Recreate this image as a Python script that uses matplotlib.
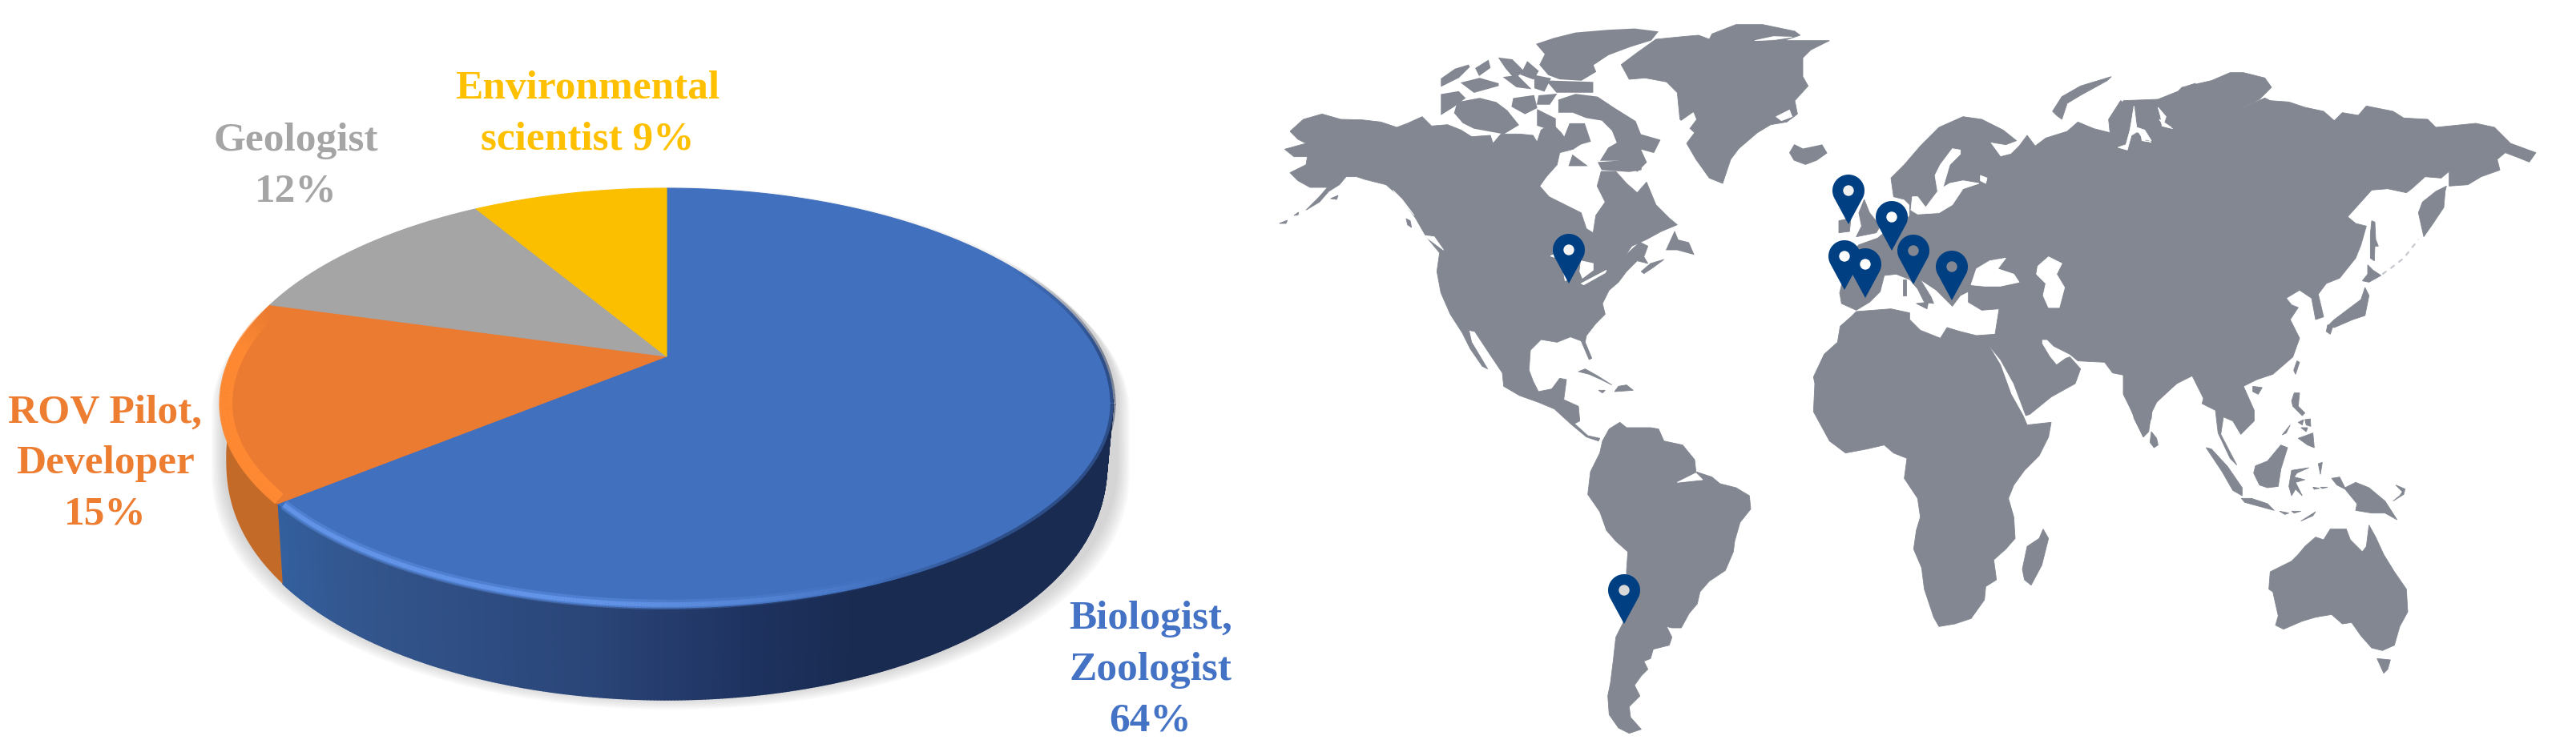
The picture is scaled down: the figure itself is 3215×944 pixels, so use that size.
import numpy as np
import matplotlib
matplotlib.use("Agg")
import matplotlib.pyplot as plt
from matplotlib.collections import LineCollection, PolyCollection
from matplotlib.colors import to_rgb

# --- pie data ---
roles = ["Biologist,\nZoologist", "ROV Pilot,\nDeveloper", "Geologist", "Environmental\nscientist"]
shares = [64, 15, 12, 9]
top_colors = ["#4170be", "#eb7b31", "#a5a5a5", "#fcbf00"]
text_colors = ["#4472c4", "#ed7d31", "#a5a5a5", "#ffc000"]
label_x = [1436, 131, 369, 733]
label_y = [837, 579, 208, 143]

# --- sampling sites (tip of the pin, in image pixels) ---
pin_x = [1958, 2027, 2307, 2361, 2302, 2328, 2388, 2436]
pin_y = [355, 780, 281, 314, 363, 373, 356, 376]
pin_hole = ["#f4f4f4", "#d8d8d8", "#f0f0f0", "#ffffff", "#ffffff", "#ffffff", "#828791", "#828791"]

# --- map outlines, traced on 3x crops: (crop origin, points) ---
NA0 = (1590, 100)
AR0 = (1800, 10)
SA0 = (1800, 420)
EU0 = (2220, 50)
AF0 = (2220, 400)
AS0 = (2660, 60)
OC0 = (2660, 400)

north_america = [(60,195),(110,150),(180,130),(250,150),(330,152),(400,160),(460,180),(500,165),(555,140),(590,175),(650,170),(700,190),(740,215),(810,210),(820,240),(850,205),(920,205),(970,210),(985,235),(1000,190),(1040,165),(1075,200),(1100,235),(1140,190),(1165,180),(1175,225),(1120,262),(1070,275),(1060,320),(1020,365),(995,400),(1030,440),(1090,470),(1150,500),(1170,560),(1195,575),(1205,510),(1240,460),(1210,400),(1225,345),(1280,345),(1320,390),(1360,425),(1395,385),(1430,470),(1480,520),(1510,545),(1450,570),(1395,600),(1340,625),(1315,660),(1370,610),(1400,625),(1385,665),(1400,690),(1360,680),(1320,720),(1290,760),(1255,790),(1230,840),(1240,880),(1205,915),(1170,960),(1165,985),(1190,1045),(1180,1050),(1150,980),(1110,965),(1060,985),(1000,975),(960,1015),(955,1090),(970,1130),(990,1170),(1040,1160),(1070,1120),(1095,1125),(1085,1200),(1140,1225),(1145,1280),(1125,1290),(1175,1335),(1220,1345),(1215,1355),(1170,1340),(1110,1290),(1050,1235),(990,1210),(920,1185),(860,1150),(855,1100),(808,1030),(752,945),(730,940),(740,985),(800,1085),(780,1075),(735,1010),(705,950),(660,880),(625,800),(610,720),(620,650),(570,590),(530,520),(470,440),(420,395),(340,375),(310,365),(270,365),(245,395),(205,420),(170,460),(120,490),(170,440),(200,405),(135,405),(90,380),(60,350),(120,320),(125,290),(75,290),(40,262),(120,240),(90,225)]
na_small = [
    [(1140,1095),(1165,1085),(1210,1110),(1265,1145),(1225,1125),(1180,1105)],
    [(1290,1150),(1320,1145),(1345,1165),(1275,1170)],
    [(1215,1165),(1240,1165),(1230,1175)],
    [(20,540),(50,528),(45,540)],
    [(75,510),(92,498),(90,508)],
    [(212,447),(240,435),(235,450)],
    [(495,522),(510,530),(515,555),(500,545)],
    [(1375,720),(1410,690),(1460,675),(1420,705),(1385,728)],
]
arctic = [
    [(360,140),(420,120),(500,100),(620,90),(720,85),(800,95),(780,120),(700,145),(620,175),(560,215),(570,240),(520,270),(440,265),(400,250),(370,215),(390,175)],
    [(400,280),(560,285),(560,315),(430,315)],
    [(60,360),(140,345),(200,360),(240,390),(280,440),(230,470),(120,450),(80,430),(50,395)],
    [(220,195),(260,200),(300,240),(270,260),(240,225)],
    [(320,210),(355,240),(340,265),(300,250)],
    [(0,270),(50,235),(100,220),(60,260),(0,290)],
    [(80,285),(140,270),(210,290),(120,315)],
    [(130,230),(170,205),(175,225),(140,250)],
    [(240,265),(280,260),(320,300),(280,295)],
    [(350,260),(400,270),(380,310),(350,300)],
    [(0,330),(60,320),(80,340),(40,370),(0,395)],
    [(270,345),(340,335),(350,375),(310,395),(265,370)],
    [(365,335),(420,330),(400,360),(360,360)],
    [(440,350),(500,330),(580,340),(640,380),(720,430),(740,480),(810,500),(790,540),(735,525),(760,580),(730,610),(660,570),(600,570),(625,530),(660,510),(640,460),(600,420),(540,410),(490,390),(440,390)],
    [(590,585),(660,580),(745,605),(700,612),(600,605)],
    [(480,440),(530,440),(550,500),(480,520),(460,490)],
    [(360,390),(420,420),(420,460),(360,440)],
    [(490,560),(530,590),(480,590)],
    [(1305,545),(1320,520),(1350,535),(1420,520),(1435,545),(1400,570),(1360,585),(1320,570)],
    [(845,905),(870,850),(880,875),(920,885),(935,920),(880,905)],
]
greenland = [(670,215),(730,170),(800,120),(900,110),(960,105),(1000,120),(1010,100),(1100,65),(1200,65),(1320,90),(1340,105),(1280,125),(1450,125),(1380,160),(1350,190),(1350,260),(1370,295),(1320,350),(1330,400),(1290,430),(1230,440),(1180,470),(1110,530),(1080,570),(1050,660),(1000,640),(950,570),(915,510),(945,470),(890,420),(880,320),(840,280),(760,265),(700,270)]
south_america = [(600,395),(625,350),(665,325),(690,345),(780,345),(810,350),(830,395),(900,410),(945,465),(950,510),(1010,530),(1040,555),(1100,570),(1150,600),(1155,650),(1115,700),(1095,770),(1090,810),(1060,880),(1000,920),(965,960),(955,1005),(925,1040),(895,1095),(860,1095),(840,1090),(860,1130),(850,1160),(790,1175),(780,1210),(755,1220),(770,1250),(745,1275),(720,1310),(740,1350),(700,1390),(705,1430),(745,1475),(700,1490),(660,1470),(625,1420),(620,1350),(630,1300),(640,1220),(650,1130),(680,1070),(690,980),(690,880),(695,810),(650,770),(615,730),(590,660),(545,595),(555,510),(590,440)]
africa = [(230,25),(270,-10),(290,-30),(420,-40),(490,-25),(490,0),(530,40),(605,70),(630,30),(680,45),(740,60),(810,55),(785,95),(830,170),(870,280),(915,360),(930,395),(1020,385),(1010,440),(975,510),(920,565),(880,620),(860,670),(880,740),(885,820),(850,860),(805,900),(815,975),(775,1000),(770,1050),(720,1120),(660,1140),(600,1150),(580,1115),(545,1010),(535,930),(505,860),(515,790),(530,740),(520,670),(470,595),(480,520),(430,500),(395,470),(330,485),(250,500),(190,455),(130,345),(135,240),(130,215),(170,130),(220,85)]
madagascar = [(990,785),(1010,820),(985,920),(945,995),(920,975),(912,935),(930,850),(975,820)]
eurasia_west = [(235,990),(228,950),(240,900),(300,870),(305,830),(280,790),(300,770),(370,745),(400,720),(470,690),(490,660),(490,620),(470,600),(430,590),(420,520),(470,470),(530,400),(600,330),(690,290),(760,300),(840,340),(890,380),(850,395),(790,385),(830,440),(870,430),(900,400),(930,360),(960,400),(1000,370),(1080,345),(1120,310),(1180,335),(1240,350),(1235,300),(1280,230),(1310,250),(1325,310),(1340,260),(1385,240),(1420,240),(1490,210),(1530,175),(1560,165),(1560,1255),(1490,1290),(1420,1350),(1395,1400),(1385,1470),(1365,1490),(1330,1420),(1305,1290),(1300,1260),(1250,1250),(1220,1210),(1120,1205),(1090,1180),(1030,1150),(1005,1125),(985,1125),(985,1140),(1015,1190),(1040,1220),(1075,1195),(1090,1190),(1130,1235),(1110,1290),(1020,1340),(940,1405),(925,1410),(880,1290),(830,1200),(785,1145),(810,1104),(825,1010),(760,1015),(710,985),(710,945),(680,960),(650,1000),(620,970),(590,940),(530,900),(570,965),(580,990),(545,985),(520,935),(490,900),(440,880),(395,885),(380,945),(340,985),(290,1015)]
eurasia_east = [(-30,200),(100,195),(175,165),(190,150),(300,125),(370,95),(420,95),(500,115),(525,150),(480,195),(410,230),(500,190),(520,200),(590,205),(650,225),(720,240),(760,275),(790,245),(850,255),(880,220),(980,240),(1020,265),(1110,270),(1140,300),(1240,290),(1290,285),(1360,300),(1420,360),(1515,395),(1490,430),(1440,410),(1400,395),(1370,420),(1380,460),(1310,485),(1260,515),(1190,520),(1190,465),(1160,490),(1100,485),(1050,530),(1030,545),(960,530),(900,535),(810,635),(840,660),(880,670),(860,740),(840,790),(780,865),(730,885),(700,925),(720,1010),(690,1020),(675,940),(630,910),(580,940),(600,965),(625,975),(595,1020),(630,1090),(605,1160),(530,1225),(470,1245),(420,1270),(460,1360),(460,1400),(410,1450),(380,1400),(345,1385),(335,1450),(395,1565),(370,1540),(325,1445),(315,1360),(265,1335),(270,1315),(225,1225),(180,1250),(100,1325),(80,1340),(75,1390),(45,1460),(-10,1340),(-30,1300)]
europe_small = [
    [(320,600),(340,650),(380,700),(365,725),(290,740),(310,700),(300,650)],
    [(225,680),(270,670),(265,720),(225,725)],
    [(515,990),(560,985),(555,1010)],
    [(465,900),(478,900),(478,960),(465,960)],
    [(1025,270),(1060,215),(1130,175),(1245,140),(1230,155),(1130,210),(1080,240),(1060,300),(1040,285)],
]
east_small = [
    [(900,650),(912,655),(915,720),(925,745),(912,745),(910,800),(895,790),(895,700)],
    [(1180,520),(1175,540),(1170,600),(1130,660),(1095,710),(1075,620),(1090,580),(1140,540)],
    [(885,815),(905,835),(935,855),(890,880),(865,875),(885,850)],
    [(875,900),(890,930),(875,1005),(830,1020),(760,1050),(735,1045),(760,1020),(820,975),(860,945)],
    [(735,1040),(755,1045),(745,1075),(730,1065)],
    [(620,1175),(630,1180),(615,1225),(608,1210)],
    [(455,1270),(490,1275),(475,1300),(455,1290)],
]
oceania = [
    [(75,420),(95,445),(100,470),(85,480),(70,460)],
    [(610,275),(630,275),(625,325),(650,350),(640,360),(605,325),(600,305)],
    [(625,445),(680,425),(685,480),(660,470)],
    [(625,385),(645,375),(640,395)],
    [(650,375),(670,372),(672,400),(655,395)],
    [(635,405),(660,405),(655,420)],
    [(565,432),(595,395),(580,425)],
    [(560,470),(585,480),(560,560),(550,625),(510,630),(480,620),(458,575),(465,548),(510,530)],
    [(280,480),(300,485),(360,550),(415,630),(415,660),(380,640),(340,570)],
    [(412,670),(450,670),(510,690),(535,715),(480,700),(425,685)],
    [(600,565),(665,555),(620,575),(610,590),(650,600),(615,610),(640,660),(615,635),(600,660),(590,625)],
    [(750,595),(780,590),(800,630),(840,610),(890,630),(950,680),(995,750),(950,725),(900,725),(840,715),(845,690),(800,635),(770,620)],
    [(555,718),(590,725),(575,730)],
    [(600,718),(635,718),(610,725)],
    [(635,755),(690,720),(680,735)],
    [(990,620),(1025,635),(1020,655),(980,680),(1005,660),(1015,645)],
    [(680,628),(705,632),(685,636)],
    [(708,628),(735,628),(715,633)],
    [(700,540),(715,535),(708,580)],
    [(520,945),(600,905),(625,880),(650,850),(690,815),(720,825),(745,785),(805,785),(820,825),(865,870),(880,850),(890,770),(915,815),(945,880),(985,945),(1030,1010),(1035,1095),(1005,1150),(985,1220),(940,1240),(900,1230),(860,1185),(825,1135),(790,1140),(750,1105),(690,1115),(640,1130),(570,1160),(540,1145),(550,1110),(530,1020),(515,1010)],
    [(920,1270),(970,1275),(960,1310),(945,1325)],
]
# inland water, painted over the land
water = [
    (EU0, [(970,850),(1010,815),(1060,840),(1040,880),(1070,930),(1050,1005),(1010,1005),(990,960),(1000,915),(965,880)]),
    (EU0, [(720,920),(740,860),(790,830),(850,820),(820,860),(880,880),(900,910),(830,925),(770,925)]),
    (EU0, [(680,415),(650,410),(605,470),(585,510),(595,570),(550,630),(520,590),(500,590),(495,640),(520,655),(600,650),(650,620),(690,560),(750,540),(690,530),(640,540),(615,555),(640,470),(680,430)]),
    (EU0, [(755,510),(780,520),(775,540),(755,530)]),
    (EU0, [(1330,250),(1340,330),(1370,340),(1395,380),(1365,375),(1345,345),(1320,360),(1305,415),(1270,405),(1300,395),(1315,340),(1322,300)]),
    (EU0, [(1425,300),(1470,330),(1440,325)]),
    (AS0, [(100,225),(130,260),(120,290),(155,305),(115,295),(110,260)]),
    (AS0, [(0,310),(50,310),(50,350),(75,355),(40,350),(35,322)]),
    (NA0, [(1150,680),(1195,690),(1195,715),(1155,745),(1145,720)]),
    (NA0, [(1150,765),(1245,715),(1240,725),(1160,770)]),
    (NA0, [(1085,725),(1100,750),(1090,755)]),
    (NA0, [(1035,662),(1050,655),(1050,667)]),
    (NA0, [(445,415),(480,450),(525,510),(490,470)]),
    (NA0, [(560,585),(600,590),(635,640),(595,610)]),
    (SA0, [(880,550),(950,515),(975,540),(925,545)]),
    (AR0, [(890,430),(940,395),(950,420),(920,460)]),
    (AR0, [(1170,125),(1240,110),(1310,112),(1240,122)]),
    (AR0, [(1250,410),(1300,385),(1310,410),(1270,425)]),
]

# --- pie geometry (image pixels, y down) ---
cx = 832
cy = 505
cy_apex = 446
semi_x = 557
semi_up = 269
semi_down = 255


def rim(frac):
    # frac is share of the circle, clockwise from 12 o'clock, bent for the perspective
    th = 2 * np.pi * np.asarray(frac, dtype=float)
    phi = th - np.radians(13.3) * np.sin(th)
    c = np.cos(phi)
    x = cx + semi_x * np.sin(phi)
    y = cy - np.where(c > 0, semi_up, semi_down) * c
    depth = 65 + 50 * np.sqrt(np.clip(-c, 0, 1))
    return x, y, depth, c


def inset(x, y, k):
    # pull rim points towards the middle of the ellipse
    return cx + (x - cx) * (1 - k), cy + (y - cy) * (1 - 2 * k)


def fading_line(x, y, col, alpha, lw, z):
    rgb = to_rgb(col)
    p = np.column_stack([x, y])
    segs = np.stack([p[:-1], p[1:]], axis=1)
    rgba = [(*rgb, a) for a in alpha[:-1]]
    ax.add_collection(LineCollection(segs, colors=rgba, linewidths=lw, zorder=z, capstyle="butt"))


fig = plt.figure(figsize=(32.16, 9.45), dpi=100, facecolor="white")
ax = fig.add_axes([0, 0, 1, 1])
ax.set_xlim(0, 3216)
ax.set_ylim(945, 0)
ax.axis("off")

edges = np.cumsum([0] + shares) / sum(shares)

# soft shadow under the pie
xs, ys, ds, cs = rim(np.linspace(0, 1, 360))
low = np.where(cs < 0, ds, 0)
for grow in range(20, 0, -3):
    ax.fill((xs - cx) * (1 + grow / 700) + cx + 5, ys + low + grow * 0.75 - 3, color="#808080", alpha=0.05, lw=0, zorder=1)

# side wall, blue part gets its left-to-right shading
stops_x = [345, 430, 740, 930, 1063, 1400]
stops_c = [(0.20, 0.376, 0.624), (0.20, 0.34, 0.56), (0.165, 0.27, 0.47), (0.12, 0.20, 0.38), (0.10, 0.17, 0.32), (0.10, 0.17, 0.32)]
f_b = np.linspace(0.24, edges[1], 400)
xb, yb, db, cb = rim(f_b)
keep = cb <= 0.02
xb, yb, db = xb[keep], yb[keep], db[keep]
xb2 = cx + (xb - cx) * 0.987
quads, cols = [], []
for i in range(len(xb) - 1):
    quads.append([(xb[i], yb[i]), (xb[i + 1], yb[i + 1]), (xb2[i + 1], yb[i + 1] + db[i + 1]), (xb2[i], yb[i] + db[i])])
    cols.append([np.interp(xb[i], stops_x, [c[k] for c in stops_c]) for k in range(3)])
ax.add_collection(PolyCollection(quads, facecolors=cols, edgecolors=cols, linewidths=1, zorder=2))

f_o = np.linspace(edges[1], 0.73, 80)
xo, yo, d_o, co = rim(f_o)
xo2 = cx + (xo - cx) * 0.987
ax.fill(np.r_[xo, xo2[::-1]], np.r_[yo, (yo + d_o)[::-1]], color="#c46a28", lw=0, zorder=2)

# top face
for i, col in enumerate(top_colors):
    xr, yr, _, _ = rim(np.linspace(edges[i], edges[i + 1], 200))
    ax.fill(np.r_[cx, xr], np.r_[cy_apex, yr], color=col, lw=0.8, ec=col, zorder=3)

# dark blurred edge on the right and bottom of the blue face
f_d = np.linspace(0.17, 0.44, 200)
xd, yd, _, _ = rim(f_d)
amp = np.clip((f_d - 0.17) / 0.08, 0, 1) * np.clip((0.44 - f_d) / 0.05, 0, 1)
fading_line(xd, yd, "#1a2c52", 0.5 * amp, 5, 4)

# bevel highlight along the rim
f_h = np.linspace(0.43, edges[1] - 0.002, 240)
xh, yh, _, _ = rim(f_h)
xh, yh = inset(xh, yh, 0.008)
amp = np.clip((f_h - 0.43) / 0.09, 0, 1)
fading_line(xh, yh, "#6b9df2", 0.35 * amp, 9, 4)
fading_line(xh, yh, "#6b9df2", 0.70 * amp, 4, 4)

f_h = np.linspace(edges[1] + 0.002, 0.785, 120)
xh, yh, _, _ = rim(f_h)
xh, yh = inset(xh, yh, 0.012)
amp = np.clip((0.785 - f_h) / 0.03, 0, 1)
fading_line(xh, yh, "#ff8a33", amp, 12, 4)

# labels
for name, val, col, lx, ly in zip(roles, shares, text_colors, label_x, label_y):
    if "scientist" in name:
        txt = f"{name} {val}%"
    else:
        txt = f"{name}\n{val}%"
    ax.text(lx, ly, txt, color=col, ha="center", va="center", fontsize=37, fontweight="bold",
            family="Liberation Serif", linespacing=1.5, zorder=6)

# --- world map ---
land_col = "#828791"


def draw(origin, pts, col=land_col, z=2, lw=0.6):
    arr = np.array(pts, dtype=float) / 3
    ax.fill(arr[:, 0] + origin[0], arr[:, 1] + origin[1], color=col, lw=lw, ec=col, zorder=z)


draw(NA0, north_america)
for p in na_small:
    draw(NA0, p)
for p in arctic:
    draw(AR0, p, lw=2.5)
draw(AR0, greenland)
draw(SA0, south_america)
draw(AF0, africa)
draw(AF0, madagascar)
draw(EU0, eurasia_west)
draw(AS0, eurasia_east)
for p in europe_small:
    draw(EU0, p)
for p in east_small:
    draw(AS0, p)
for p in oceania:
    draw(OC0, p)
for org, p in water:
    draw(org, p, col="white", z=3)

# Kuril chain
kx = np.array([940, 975, 1020, 1075]) / 3 + AS0[0]
ky = np.array([850, 825, 790, 720]) / 3 + AS0[1]
ax.plot(kx, ky, color="#c3c6cc", lw=1.5, ls=(0, (3, 3)), zorder=2)

# --- pins ---
pin_col = "#003f82"
head_r = 20
head_up = 42
a_t = np.arccos(head_r / head_up)
theta = np.linspace(-np.pi / 2 + a_t, 3 * np.pi / 2 - a_t, 60)
for tx, ty in zip(pin_x, pin_y):
    px = np.r_[tx, tx - head_r * np.cos(theta)]
    py = np.r_[ty, ty - head_up - head_r * np.sin(theta)]
    ax.fill(px, py, color=pin_col, lw=0, zorder=5)
for tx, ty, hc in zip(pin_x, pin_y, pin_hole):
    ax.add_patch(plt.Circle((tx, ty - head_up), 6.7, color=hc, lw=0, zorder=6))

fig.savefig("out.png", dpi=100, facecolor="white")
